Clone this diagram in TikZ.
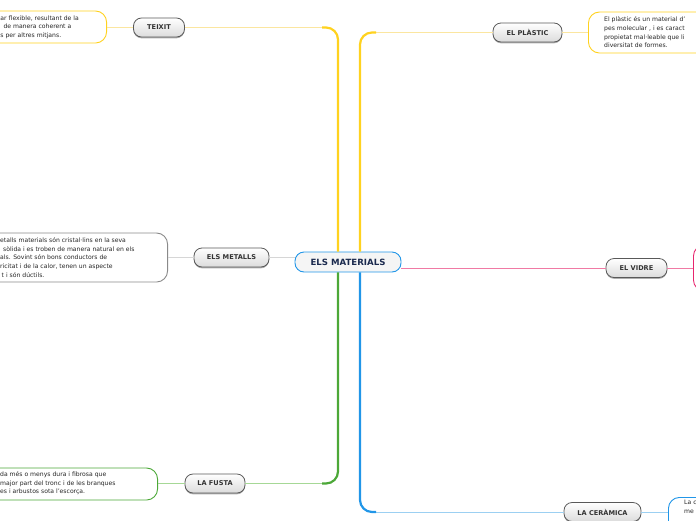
\documentclass[tikz,border=0pt]{standalone}
\usepackage{fontspec}
\setmainfont{DejaVu Sans}
\usetikzlibrary{shadows}
\definecolor{cyel}{HTML}{FFD21F}
\definecolor{cyell}{HTML}{FBE6A0}
\definecolor{cgrn}{HTML}{4CA838}
\definecolor{cgrnl}{HTML}{A6D896}
\definecolor{cblu}{HTML}{2196E8}
\definecolor{cblul}{HTML}{9CD0F2}
\definecolor{cpnk}{HTML}{F07AA4}
\definecolor{cpnkd}{HTML}{E8256E}
\definecolor{cgry}{HTML}{D6D6D6}
\definecolor{cgryd}{HTML}{8A8A8A}
\definecolor{navy}{HTML}{1B2A4E}
\begin{document}
\begin{tikzpicture}[x=1pt,y=-1pt,
  topic/.style={draw=black!65, line width=0.8pt, rounded corners=8pt,
    top color=white, bottom color=black!14,
    font=\bfseries\fontsize{6.6}{7}\selectfont, text=black!80,
    inner sep=0pt, minimum height=19pt,
    drop shadow={shadow xshift=0pt, shadow yshift=-1.3pt, fill=black!45, opacity=0.7}},
  central/.style={draw=cblu, line width=0.9pt, rounded corners=9pt, fill=black!4,
    font=\bfseries\fontsize{8.6}{9}\selectfont, text=navy,
    inner sep=0pt, minimum height=20pt, minimum width=106pt},
  desc/.style={line width=0.9pt, rounded corners=11pt, fill=white, inner sep=0pt},
  txt/.style={align=left, inner sep=0pt, font=\fontsize{6.1}{8.6}\selectfont, text=black!85},
  trunk/.style={line width=2.2pt, rounded corners=12pt},
  twig/.style={line width=1pt}
]
\useasboundingbox (0,0) rectangle (696,520);

% description boxes
\node[desc, draw=cyel, minimum width=150pt, minimum height=32pt, anchor=east] (dteixit) at (107,27) {};
\node[desc, draw=cyel, minimum width=150pt, minimum height=41pt, anchor=west] (dplastic) at (588,32.5) {};
\node[desc, draw=cgryd, minimum width=220pt, minimum height=49pt, anchor=east] (dmetalls) at (168,257.5) {};
\node[desc, draw=cpnkd, minimum width=100pt, minimum height=46pt, anchor=west] (dvidre) at (693,268) {};
\node[desc, draw=cgrn, minimum width=220pt, minimum height=32pt, anchor=east] (dfusta) at (158,484) {};
\node[desc, draw=cblu, minimum width=100pt, minimum height=46pt, anchor=north west] (dceram) at (668,497) {};

% texts
\node[txt, anchor=west] (tteixit) at (0.3,27) {ar flexible, resultant de la\\\hspace*{3pt}de manera coherent a\\s per altres mitjans.};
\node[txt, anchor=west] (tplastic) at (604,32.5) {El plàstic és un material d'\\pes molecular , i es caract\\propietat mal·leable que li\\diversitat de formes.};
\node[txt, anchor=west] (tmetalls) at (0,257.5) {etalls materials són cristal·lins en la seva\\\hspace*{3pt}sòlida i es troben de manera natural en els\\als. Sovint són bons conductors de\\ricitat i de la calor, tenen un aspecte\\\hspace*{1.5pt}t i són dúctils.};
\node[txt, anchor=west] (tfusta) at (0,483.5) {da més o menys dura i fibrosa que\\major part del tronc i de les branques\\es i arbustos sota l'escorça.};
\node[txt, anchor=north west] (tceram) at (684,500) {La c\\me};

% central node and topics
\node[central] (mat) at (348,262) {ELS MATERIALS};
\node[topic, minimum width=51pt] (teixit) at (159,27.5) {TEIXIT};
\node[topic, minimum width=69pt] (plastic) at (527.5,32.5) {EL PLÀSTIC};
\node[topic, minimum width=75pt] (metalls) at (231.5,257.5) {ELS METALLS};
\node[topic, minimum width=61pt] (vidre) at (636.5,268) {EL VIDRE};
\node[topic, minimum width=60pt] (fusta) at (215,483.5) {LA FUSTA};
\node[topic, minimum width=77pt] (ceram) at (602.5,512) {LA CERÀMICA};

% trunks: thin light horizontal part, thick vertical part
\draw[twig, cyell] (teixit.east) -- ([xshift=-26pt]mat.north |- teixit.east);
\draw[trunk, cyel] ([xshift=-10pt]mat.north) |- ([xshift=-26pt]mat.north |- teixit.east);

\draw[twig, cyell] (plastic.west) -- ([xshift=28pt]mat.north |- plastic.west);
\draw[trunk, cyel] ([xshift=12pt]mat.north) |- ([xshift=28pt]mat.north |- plastic.west);

\draw[twig, cgrnl] (fusta.east) -- ([xshift=-26pt]mat.south |- fusta.east);
\draw[trunk, cgrn] ([xshift=-10pt]mat.south) |- ([xshift=-26pt]mat.south |- fusta.east);

\draw[twig, cblul] (ceram.west) -- ([xshift=28pt]mat.south |- ceram.west);
\draw[trunk, cblu] ([xshift=12pt]mat.south) |- ([xshift=28pt]mat.south |- ceram.west);

\draw[twig, cpnk] (vidre.west -| mat.east) -- (vidre.west);
\draw[twig, cgry] (metalls.east -| mat.west) -- (metalls.east);

% twigs to descriptions
\draw[twig, cyell] (teixit.west) -- (teixit.west -| dteixit.east);
\draw[twig, cyell] (plastic.east) -- (plastic.east -| dplastic.west);
\draw[twig, cgry] (metalls.west) -- (metalls.west -| dmetalls.east);
\draw[twig, cpnk] (vidre.east) -- (vidre.east -| dvidre.west);
\draw[twig, cgrnl] (fusta.west) -- (fusta.west -| dfusta.east);
\draw[twig, cblul] (ceram.east) -- (ceram.east -| dceram.west);
\end{tikzpicture}
\end{document}
